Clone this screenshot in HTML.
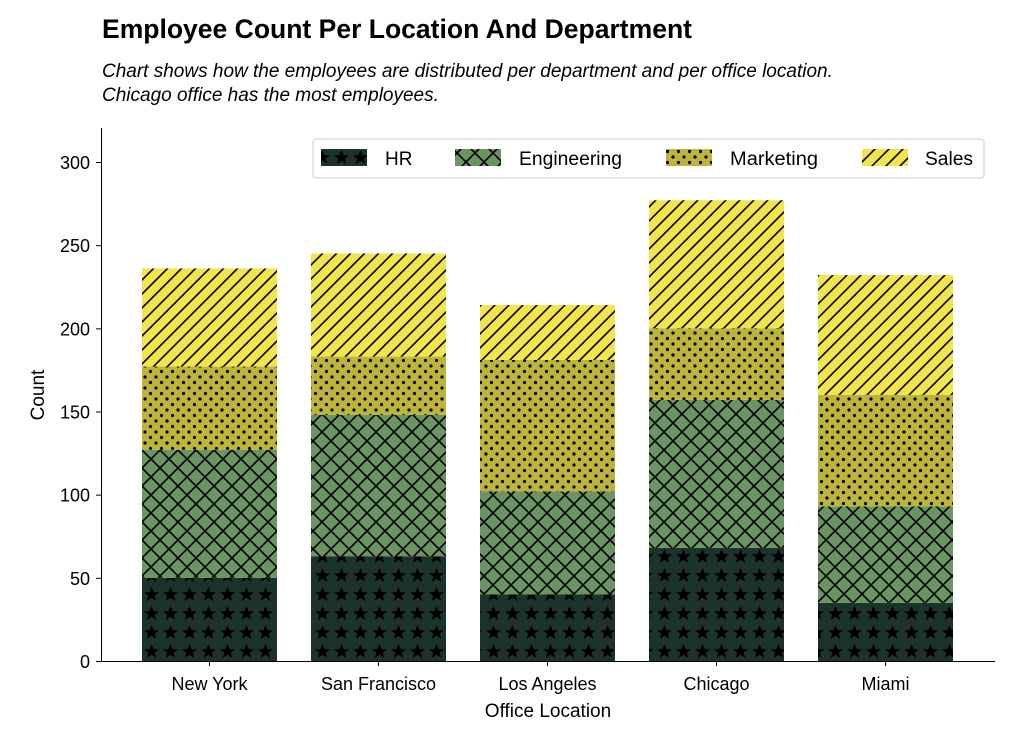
<!DOCTYPE html>
<html><head><meta charset="utf-8"><style>
body{margin:0;background:#fff;}
svg{display:block;font-family:"Liberation Sans Narrow","Liberation Sans",sans-serif;}
</style></head><body>
<svg id="chart" width="1024" height="729" viewBox="0 0 1024 729" xmlns="http://www.w3.org/2000/svg">
<defs>
<pattern id="p-hr" patternUnits="userSpaceOnUse" width="19" height="19" x="142" y="661">
<rect width="19" height="19" fill="#1c3329"/>
<polygon points="9.5,2 11.6,7.3 17,7.3 12.7,10.7 14.3,16 9.5,12.8 4.7,16 6.3,10.7 2,7.3 7.4,7.3" fill="#000"/>
</pattern>
<pattern id="p-eng" patternUnits="userSpaceOnUse" width="18" height="18" x="142">
<rect width="18" height="18" fill="#6a9562"/>
<path d="M0,0L18,18M-9,9L9,27M9,-9L27,9M0,18L18,0M-9,9L9,-9M9,27L27,9" stroke="#000" stroke-width="1.6"/>
</pattern>
<pattern id="p-mkt" patternUnits="userSpaceOnUse" width="11" height="11" x="142">
<rect width="11" height="11" fill="#bdb539"/>
<circle cx="3" cy="3" r="1.6" fill="#000"/>
<circle cx="8.5" cy="8.5" r="1.6" fill="#000"/>
</pattern>
<pattern id="p-sales" patternUnits="userSpaceOnUse" width="14" height="14" x="142">
<rect width="14" height="14" fill="#f2e54b"/>
<path d="M-3.5,3.5L3.5,-3.5M0,14L14,0M10.5,17.5L17.5,10.5" stroke="#000" stroke-width="1.6"/>
</pattern>
</defs>
<text x="102" y="38" font-size="27" font-weight="bold" fill="#000" textLength="590" lengthAdjust="spacingAndGlyphs">Employee Count Per Location And Department</text>
<text x="102" y="77" font-size="19" font-style="italic" fill="#000">Chart shows how the employees are distributed per department and per office location.</text>
<text x="102" y="101" font-size="19" font-style="italic" fill="#000">Chicago office has the most employees.</text>
<g id="bars"></g>
<g id="axes"></g>
<g>
<rect x="313" y="139" width="671" height="39" rx="3" fill="#fff" stroke="#ccc"/>
<g><rect x="321" y="149" width="46" height="17" fill="url(#p-hr)"/><text x="385" y="165" font-size="19">HR</text></g>
<g><rect x="455" y="149" width="46" height="17" fill="url(#p-eng)"/><text x="519" y="165" font-size="19" textLength="103" lengthAdjust="spacingAndGlyphs">Engineering</text></g>
<g><rect x="666" y="149" width="46" height="17" fill="url(#p-mkt)"/><text x="730" y="165" font-size="19" textLength="88" lengthAdjust="spacingAndGlyphs">Marketing</text></g>
<g><rect x="862" y="149" width="46" height="17" fill="url(#p-sales)"/><text x="925" y="165" font-size="19" textLength="48" lengthAdjust="spacingAndGlyphs">Sales</text></g>
</g>
</svg>
<script>
const categories = ["New York","San Francisco","Los Angeles","Chicago","Miami"];
const hr = [50,63,40,68,35];
const engineering = [77,85,62,89,58];
const marketing = [50,35,79,43,67];
const sales = [59,62,33,77,72];
const yTicks = [0,50,100,150,200,250,300];

const NS="http://www.w3.org/2000/svg";
const y0=661, yScale=499/300;
function yPx(v){return y0 - v*yScale;}
function xCenter(i){return 209.5 + 169*i;}
const barW=135;
const series=[["hr",hr,"url(#p-hr)"],["engineering",engineering,"url(#p-eng)"],["marketing",marketing,"url(#p-mkt)"],["sales",sales,"url(#p-sales)"]];
const bars=document.getElementById('bars');
categories.forEach((c,i)=>{
  let base=0;
  series.forEach(s=>{
    const v=s[1][i];
    const r=document.createElementNS(NS,'rect');
    r.setAttribute('x',xCenter(i)-barW/2);
    r.setAttribute('y',yPx(base+v));
    r.setAttribute('width',barW);
    r.setAttribute('height',v*yScale);
    r.setAttribute('fill',s[2]);
    
    
    bars.appendChild(r);
    base+=v;
  });
});
const axes=document.getElementById('axes');
function line(x1,y1,x2,y2,name){
  const l=document.createElementNS(NS,'line');
  l.setAttribute('x1',x1);l.setAttribute('y1',y1);l.setAttribute('x2',x2);l.setAttribute('y2',y2);
  l.setAttribute('stroke','#000');l.setAttribute('stroke-width','1');
  
  
  axes.appendChild(l);
}
function text(x,y,t,anchor,size,name,rot){
  const e=document.createElementNS(NS,'text');
  e.setAttribute('x',x);e.setAttribute('y',y);e.setAttribute('text-anchor',anchor);
  e.setAttribute('font-size',size);e.textContent=t;
  if(rot)e.setAttribute('transform',rot);
  
  
  axes.appendChild(e);
}
line(101.5,128,101.5,661.5,'y-axis-line');
line(101,661.5,995,661.5,'x-axis-line');
yTicks.forEach(t=>{
  line(96,yPx(t)+0.5,101,yPx(t)+0.5,'y-tick');
  text(90,yPx(t)+7,String(t),'end',18,'y-tick-label');
});
categories.forEach((c,i)=>{
  line(xCenter(i),661,xCenter(i),666,'x-tick');
  text(xCenter(i),690,c,'middle',18,'x-tick-label');
});
text(548,717,'Office Location','middle',19,'x-axis-title');
text(44,395,'Count','middle',19,'y-axis-title','rotate(-90 44 395)');
</script>
</body></html>
